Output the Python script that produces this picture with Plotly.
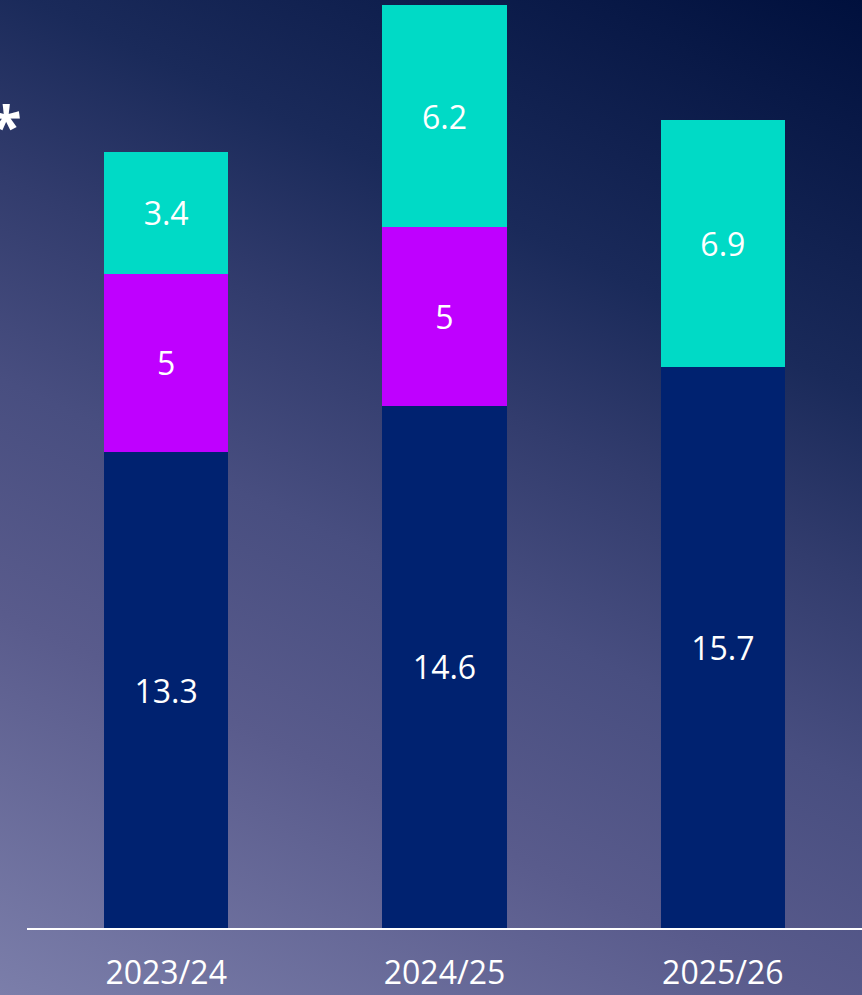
import base64
import plotly.graph_objects as go

# ---- data ----
categories = ["2023/24", "2024/25", "2025/26"]
navy_values = [13.3, 14.6, 15.7]
magenta_values = [5, 5, None]
teal_values = [3.4, 6.2, 6.9]

W, H = 862, 995
ML, MR, MT, MB = 27, 0, 0, 67

# gradient background as an svg image
svg = f'''<svg xmlns="http://www.w3.org/2000/svg" width="{W}" height="{H}" viewBox="0 0 {W} {H}">
<defs><linearGradient id="g" gradientUnits="userSpaceOnUse" x1="862" y1="0" x2="300" y2="1190">
<stop offset="0" stop-color="#00103d"/>
<stop offset="0.27" stop-color="#1a2a5a"/>
<stop offset="0.40" stop-color="#323c6d"/>
<stop offset="0.54" stop-color="#484e80"/>
<stop offset="0.70" stop-color="#595b8c"/>
<stop offset="1" stop-color="#8083ae"/>
</linearGradient></defs>
<rect x="0" y="0" width="{W}" height="{H}" fill="url(#g)"/>
</svg>'''
src = "data:image/svg+xml;base64," + base64.b64encode(svg.encode()).decode()

pw = W - ML - MR
ph = H - MT - MB

fig = go.Figure()
common = dict(
    texttemplate="%{y}",
    textposition="inside",
    insidetextanchor="middle",
    textangle=0,
    constraintext="none",
    textfont=dict(color="white", size=32, family="Open Sans"),
    width=0.446,
    hoverinfo="skip",
)
fig.add_trace(go.Bar(x=categories, y=navy_values, marker=dict(color="#002270", line=dict(width=0)), name="a", **common))
fig.add_trace(go.Bar(x=categories, y=magenta_values, marker=dict(color="#bf00ff", line=dict(width=0)), name="b", **common))
fig.add_trace(go.Bar(x=categories, y=teal_values, marker=dict(color="#00dac6", line=dict(width=0)), name="c", **common))

fig.update_layout(
    width=W, height=H,
    margin=dict(l=ML, r=MR, t=MT, b=MB, pad=0),
    barmode="stack",
    showlegend=False,
    paper_bgcolor="#3a4272",
    plot_bgcolor="rgba(0,0,0,0)",
    font=dict(family="Open Sans", color="white"),
    images=[dict(
        source=src, xref="paper", yref="paper",
        x=-ML / pw, y=1 + MT / ph, sizex=W / pw, sizey=H / ph,
        xanchor="left", yanchor="top", sizing="stretch", layer="below",
    )],
    xaxis=dict(
        range=[-0.5, 2.5], showgrid=False, zeroline=False,
        showline=True, linecolor="white", linewidth=2,
        ticks="", tickfont=dict(size=32, color="white", family="Open Sans"),
        ticklabelstandoff=16,
    ),
    yaxis=dict(range=[0, 25.95], visible=False, showgrid=False, zeroline=False),
    annotations=[dict(
        text="<b>*</b>", xref="paper", yref="paper",
        x=(6 - ML) / pw, y=(H - MB - 124) / ph,
        xanchor="center", yanchor="middle", showarrow=False,
        font=dict(size=56, color="white", family="Open Sans"),
    )],
)

fig.write_html("out.html", config={"displayModeBar": False, "staticPlot": True})

# remove the browser's default page margin so the figure sits at 0,0
with open("out.html", encoding="utf-8") as f:
    html = f.read()
html = html.replace("<head>", "<head><style>html,body{margin:0;padding:0;overflow:hidden;}</style>", 1)
with open("out.html", "w", encoding="utf-8") as f:
    f.write(html)
